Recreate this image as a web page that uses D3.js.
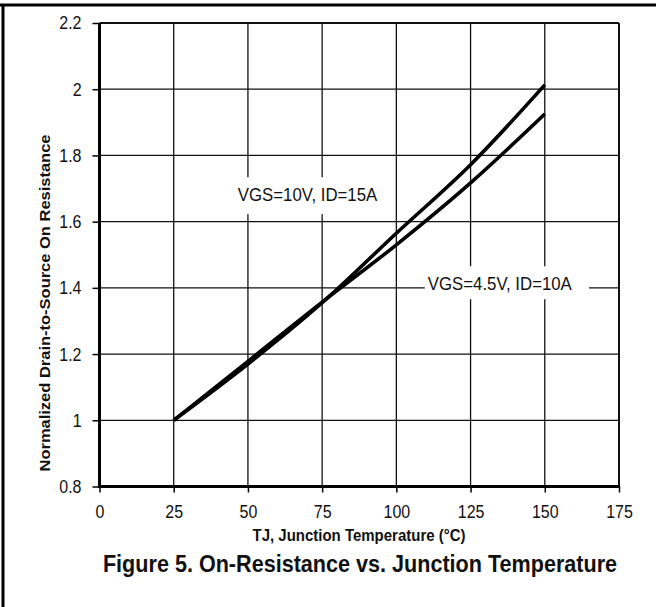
<!DOCTYPE html>
<html><head><meta charset="utf-8">
<script src="https://cdn.jsdelivr.net/npm/d3@7"></script>
<style>
html,body{margin:0;padding:0;background:#fff;}
svg{display:block;font-family:"Liberation Sans",Arial,sans-serif;}
</style></head>
<body>
<svg id="chart" width="659" height="607"></svg>
<script>
// ---- data ----
const temps = [25, 50, 75, 100, 125, 150];
const vgs10 = [1.000, 1.170, 1.355, 1.565, 1.772, 2.013];
const vgs45 = [1.000, 1.178, 1.357, 1.530, 1.717, 1.925];
const seriesNames = ["VGS=10V, ID=15A", "VGS=4.5V, ID=10A"];
const labelPos = [[46.6, 1.682], [110.6, 1.413]];
const xTicks = [0, 25, 50, 75, 100, 125, 150, 175];
const yTicks = [0.8, 1, 1.2, 1.4, 1.6, 1.8, 2, 2.2];
const xTitle = "TJ, Junction Temperature (°C)";
const yTitle = "Normalized Drain-to-Source On Resistance";
const caption = "Figure 5. On-Resistance vs. Junction Temperature";

const SY = 1.1; // vertical stretch of the lettering
const svg = d3.select("#chart");
const x = d3.scaleLinear().domain([0, 175]).range([99.5, 619]);
const y = d3.scaleLinear().domain([0.8, 2.2]).range([486.5, 23]);

// outer frame
svg.append("line").attr("x1", 3).attr("x2", 3).attr("y1", 4).attr("y2", 607)
  .attr("stroke", "#000").attr("stroke-width", 3);
svg.append("line").attr("x1", 0).attr("x2", 656).attr("y1", 5).attr("y2", 5)
  .attr("stroke", "#000").attr("stroke-width", 3);

// grid
const g = svg.append("g");
g.selectAll(".vg").data(xTicks.slice(1)).join("line")
  .attr("x1", d => x(d)).attr("x2", d => x(d))
  .attr("y1", y(2.2)).attr("y2", y(0.8))
  .attr("stroke", "#111").attr("stroke-width", d => d === 175 ? 2 : 1.3);
g.selectAll(".hg").data(yTicks.slice(1)).join("line")
  .attr("x1", x(0)).attr("x2", x(175))
  .attr("y1", d => y(d)).attr("y2", d => y(d))
  .attr("stroke", "#111").attr("stroke-width", d => d === 2.2 ? 2 : 1.3);

// axes
const xAxis = d3.axisBottom(x).tickValues(xTicks).tickSize(6).tickPadding(11)
  .tickFormat(d3.format("d"));
const yAxis = d3.axisLeft(y).tickValues(yTicks).tickSize(7).tickPadding(11)
  .tickFormat(d => String(+d.toFixed(1)));
const gx = svg.append("g").attr("transform", `translate(0,${y(0.8)})`).call(xAxis);
const gy = svg.append("g").attr("transform", `translate(${x(0)},0)`).call(yAxis);
[gx, gy].forEach(a => {
  a.select(".domain").remove();
  a.selectAll(".tick line").attr("stroke", "#000").attr("stroke-width", 1.5);
  a.selectAll(".tick text").attr("fill", "#111").style("font-size", "16px")
    .style("font-family", "'Liberation Sans',Arial,sans-serif");
});
gx.selectAll(".tick text").attr("y", 32 / SY).attr("dy", 0)
  .attr("transform", `scale(1,${SY})`);
gy.selectAll(".tick text").attr("x", -18).attr("dy", "0.34em")
  .attr("transform", `scale(1,${SY})`);
svg.append("line").attr("x1", x(0)).attr("x2", x(0)).attr("y1", y(2.2)).attr("y2", y(0.8) + 1.5)
  .attr("stroke", "#000").attr("stroke-width", 3);
svg.append("line").attr("x1", x(0) - 1.5).attr("x2", x(175) + 1).attr("y1", y(0.8)).attr("y2", y(0.8))
  .attr("stroke", "#000").attr("stroke-width", 3);

// curves
const line = d3.line().x(d => x(d[0])).y(d => y(d[1])).curve(d3.curveCatmullRom.alpha(0.5));
[vgs10, vgs45].forEach(vals => {
  svg.append("path").datum(temps.map((t, i) => [t, vals[i]]))
    .attr("d", line).attr("fill", "none").attr("stroke", "#000")
    .attr("stroke-width", 3.6).attr("stroke-linejoin", "round");
});

// series labels with white boxes
const pads = [[6, 13, 7, 9], [3, 17, 7, 5]]; // left,right,top,bottom
seriesNames.forEach((name, i) => {
  const lg = svg.append("g")
    .attr("transform", `translate(${x(labelPos[i][0])},${y(labelPos[i][1])}) scale(1,${SY})`);
  const bg = lg.append("rect").attr("fill", "#fff");
  const t = lg.append("text").attr("x", 0).attr("y", 0)
    .attr("dy", "0.35em").attr("fill", "#111").style("font-size", "16.8px").text(name);
  const b = t.node().getBBox();
  const p = pads[i];
  bg.attr("x", b.x - p[0]).attr("y", b.y - p[2] / SY)
    .attr("width", b.width + p[0] + p[1]).attr("height", b.height + (p[2] + p[3]) / SY);
});

// titles
svg.append("text").attr("transform", `translate(359,541) scale(1,${SY})`).attr("text-anchor", "middle")
  .style("font-size", "15px").style("font-weight", "bold").attr("fill", "#111").text(xTitle);
svg.append("text").attr("transform", `translate(50,303) rotate(-90) scale(${SY},1)`).attr("text-anchor", "middle")
  .style("font-size", "15px").style("font-weight", "bold").attr("fill", "#111").text(yTitle);
svg.append("text").attr("transform", `translate(360,572) scale(1,${SY})`).attr("text-anchor", "middle")
  .style("font-size", "21.6px").style("font-weight", "bold").attr("fill", "#111").text(caption);
</script>
</body></html>
